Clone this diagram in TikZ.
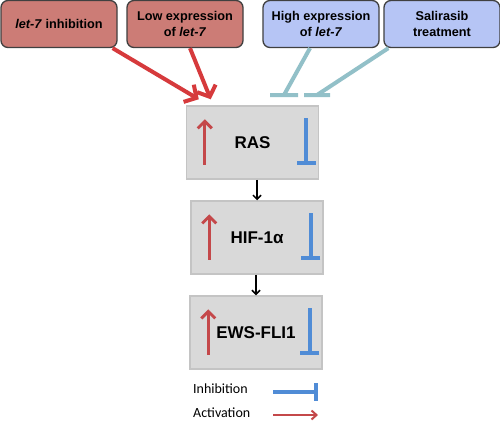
\documentclass[tikz,border=0pt]{standalone}
\usepackage{fontspec}
\setmainfont{Liberation Sans}
\newfontfamily\legendfont{Carlito}
\usetikzlibrary{arrows.meta,calc}
\definecolor{boxred}{RGB}{204,124,118}
\definecolor{boxblue}{RGB}{182,197,245}
\definecolor{actred}{RGB}{214,58,60}
\definecolor{upred}{RGB}{196,72,74}
\definecolor{inhblue}{RGB}{80,140,214}
\definecolor{inhteal}{RGB}{146,192,200}
\definecolor{genegray}{RGB}{217,217,217}
\definecolor{geneedge}{RGB}{196,196,196}
\tikzset{
  topbox/.style={draw=black!75, line width=1.3pt, rounded corners=7pt,
    minimum width=116pt, minimum height=47pt, inner sep=0pt, align=center,
    font=\bfseries\fontsize{12.7}{16}\selectfont},
  genebox/.style={draw=geneedge, fill=genegray, line width=1.5pt,
    minimum width=132pt, minimum height=73pt, inner sep=0pt,
    font=\bfseries\fontsize{17}{20}\selectfont},
  bigact/.style={draw=actred, line width=4pt, -{Straight Barb[length=9pt,width=20pt]}},
  tealinh/.style={draw=inhteal, line width=4pt},
  upact/.style={draw=upred, line width=3pt, -{Straight Barb[length=7pt,width=14pt]}},
  downinh/.style={draw=inhblue, line width=4pt, -{Bar[width=19pt]}},
  flow/.style={draw=black, line width=1.5pt, -{Straight Barb[length=4pt,width=8pt]}},
  lgd/.style={anchor=west, inner sep=0pt, font=\legendfont\fontsize{14}{16}\selectfont}
}
\begin{document}
\begin{tikzpicture}[x=1pt,y=-1pt]
  \useasboundingbox[fill=white] (0,0) rectangle (500,431);

  % top boxes
  \node[topbox, fill=boxred]  (inhib)  at (59,24)  {\textit{let-7} inhibition};
  \node[topbox, fill=boxred]  (lowexp) at (185,24) {Low expression\\of \textit{let-7}};
  \node[topbox, fill=boxblue] (hiexp)  at (321,24) {High expression\\of \textit{let-7}};
  \node[topbox, fill=boxblue] (salir)  at (442,24) {Salirasib\\treatment};

  % cascade
  \node[genebox] (ras) at (252.5,142.5) {RAS};
  \node[genebox] (hif) at (257,237.5) {HIF-1α};
  \node[genebox] (ews) at (256,332.5) {EWS-FLI1};

  \draw[bigact] ($(inhib.south east)+(-5,0)$) -- ($(ras.north west)+(13,-6)$);
  \draw[bigact] ($(lowexp.south)+(5,0)$) -- ($(ras.north west)+(25,-6)$);

  \coordinate (bar1) at (284,95);
  \coordinate (bar2) at (317,95);
  \draw[tealinh] ($(hiexp.south)+(-11,0)$) -- (bar1)
    ($(bar1)+(-14,0)$) -- ($(bar1)+(14,0)$);
  \draw[tealinh] ($(salir.south west)+(5,0)$) -- (bar2)
    ($(bar2)+(-13,0)$) -- ($(bar2)+(13,0)$);

  \draw[flow] (ras.south -| hif.north) -- (hif.north);
  \draw[flow] (hif.south -| ews.north) -- (ews.north);

  \foreach \g in {ras,hif,ews} {
    \draw[upact] ($(\g.south west)+(19,-15)$) -- ($(\g.north west)+(19,14)$);
    \draw[downinh] ($(\g.north east)+(-13,13)$) -- ($(\g.south east)+(-13,-15)$);
  }

  % legend
  \node[lgd] (linh) at (193,389) {Inhibition};
  \node[lgd] (lact) at (193,413) {Activation};
  \coordinate (inhA) at (273,392);
  \coordinate (inhB) at (318,392);
  \coordinate (actA) at (273,415);
  \coordinate (actB) at (318,415);
  \draw[draw=inhblue, line width=4pt, -{Bar[width=18pt]}] (inhA) -- (inhB);
  \draw[draw=upred, line width=2pt, -{Straight Barb[length=5pt,width=9pt]}] (actA) -- (actB);
\end{tikzpicture}
\end{document}
